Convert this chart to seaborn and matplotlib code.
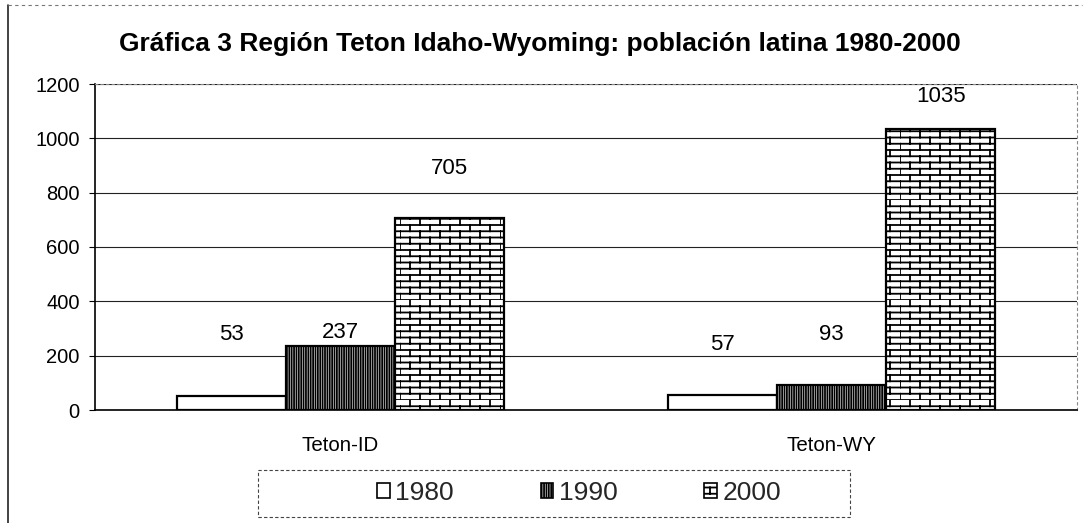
import warnings
warnings.filterwarnings("ignore")
import numpy as np
import pandas as pd
import matplotlib
matplotlib.use("Agg")
import matplotlib.pyplot as plt
import matplotlib.patches as mpatches
from matplotlib.lines import Line2D
from matplotlib import hatch as mhatch
from matplotlib.path import Path
import seaborn as sns

# ---------------- data ----------------
regions = ["Teton-ID", "Teton-WY"]
years = ["1980", "1990", "2000"]
pop_1980 = [53, 57]
pop_1990 = [237, 93]
pop_2000 = [705, 1035]
yticks = [0, 200, 400, 600, 800, 1000, 1200]
title = "Gráfica 3 Región Teton Idaho-Wyoming: población latina 1980-2000"

# label offsets above bar tops (pixels), per year then region
label_offsets = {"1980": [61, 50], "1990": [13, 50], "2000": [50, 32]}


# ---------------- brick hatch ----------------
class BrickHatch(mhatch.HatchPatternBase):
    def __init__(self, hatch, density):
        n = hatch.count("b")
        self.rows = 16 if n else 0
        self.cols = 5
        self.num_vertices = self.rows * 2 + self.rows * self.cols * 2

    def set_vertices_and_codes(self, vertices, codes):
        idx = 0
        for i in range(self.rows):
            y = i / self.rows
            vertices[idx] = (0.0, y)
            codes[idx] = Path.MOVETO
            vertices[idx + 1] = (1.0, y)
            codes[idx + 1] = Path.LINETO
            idx += 2
        for i in range(self.rows):
            y0 = i / self.rows
            y1 = (i + 1) / self.rows
            off = 0.5 * (i % 2)
            for j in range(self.cols):
                x = (j + off) / self.cols
                vertices[idx] = (x, y0)
                codes[idx] = Path.MOVETO
                vertices[idx + 1] = (x, y1)
                codes[idx + 1] = Path.LINETO
                idx += 2


mhatch._hatch_types.append(BrickHatch)

hatches = {"1980": "", "1990": "|||||||", "2000": "b"}

# ---------------- figure ----------------
sns.set_theme(style="white")
plt.rcParams["font.family"] = ["Liberation Sans", "DejaVu Sans"]
plt.rcParams["hatch.linewidth"] = 1.3
plt.rcParams["hatch.color"] = "black"

W, H = 1084, 523
fig = plt.figure(figsize=(W / 100, H / 100), dpi=100)
ax = fig.add_axes([95 / W, 1 - 410 / H, (1077 - 95) / W, (410 - 84) / H])

df = pd.DataFrame({
    "region": regions * 3,
    "year": [y for y in years for _ in regions],
    "value": pop_1980 + pop_1990 + pop_2000,
})

sns.barplot(data=df, x="region", y="value", hue="year", hue_order=years,
            palette=["white"] * 3, edgecolor="black", linewidth=1.6,
            width=0.667, saturation=1, ax=ax, legend=False, errorbar=None)

for yr, cont in zip(years, ax.containers):
    for k, bar in enumerate(cont.patches):
        bar.set_hatch(hatches[yr])
        bar.set_edgecolor("black")
        bar.set_zorder(3)
        val = bar.get_height()
        ax.annotate(f"{int(round(val))}",
                    (bar.get_x() + bar.get_width() / 2, val),
                    xytext=(0, label_offsets[yr][k] * 0.72),
                    textcoords="offset points", ha="center", va="center",
                    fontsize=16, color="black", zorder=5)

ax.set_ylim(0, 1200)
ax.set_xlim(-0.5, 1.5)
ax.set_yticks(yticks)
ax.set_yticklabels([str(t) for t in yticks])
ax.set_xlabel("")
ax.set_ylabel("")
ax.yaxis.grid(True, color="#222222", linewidth=0.8)
ax.xaxis.grid(False)
ax.set_axisbelow(True)
ax.tick_params(axis="y", left=True, length=4, width=0.8, pad=7,
               labelsize=14.5, colors="black")
ax.tick_params(axis="x", bottom=False, pad=13, labelsize=14.8, colors="black")

for s in ["left", "bottom"]:
    ax.spines[s].set_color("black")
    ax.spines[s].set_linewidth(1.2)
for s in ["top", "right"]:
    ax.spines[s].set_color("#888888")
    ax.spines[s].set_linewidth(0.8)
    ax.spines[s].set_linestyle((0, (2, 3)))

fig.text(540 / W, 1 - 44 / H, title, ha="center", va="center",
         fontsize=19, fontweight="bold", color="black")

# legend
handles = [mpatches.Patch(facecolor="white", edgecolor="black",
                          hatch=hatches[y], linewidth=1.2, label=y)
           for y in years]
leg = fig.legend(handles=handles, loc="center",
                 bbox_to_anchor=(579 / W, 1 - 493 / H), ncol=3,
                 frameon=False, fontsize=19, handlelength=0.48,
                 handleheight=0.48, handletextpad=0.2, columnspacing=3.3)

fig.add_artist(mpatches.Rectangle((258 / W, 1 - 517 / H), (850 - 258) / W,
                                  (517 - 470) / H, transform=fig.transFigure,
                                  fill=False, edgecolor="#444444",
                                  linewidth=0.8, linestyle=(0, (3, 2))))

# chart border
fig.add_artist(Line2D([8 / W, 8 / W], [1 - 5 / H, 0], transform=fig.transFigure,
                      color="#222222", linewidth=1.2))
fig.add_artist(Line2D([8 / W, 1082 / W], [1 - 5 / H, 1 - 5 / H],
                      transform=fig.transFigure, color="#777777",
                      linewidth=0.8, linestyle=(0, (3, 3))))

fig.savefig("out.png", dpi=100)
